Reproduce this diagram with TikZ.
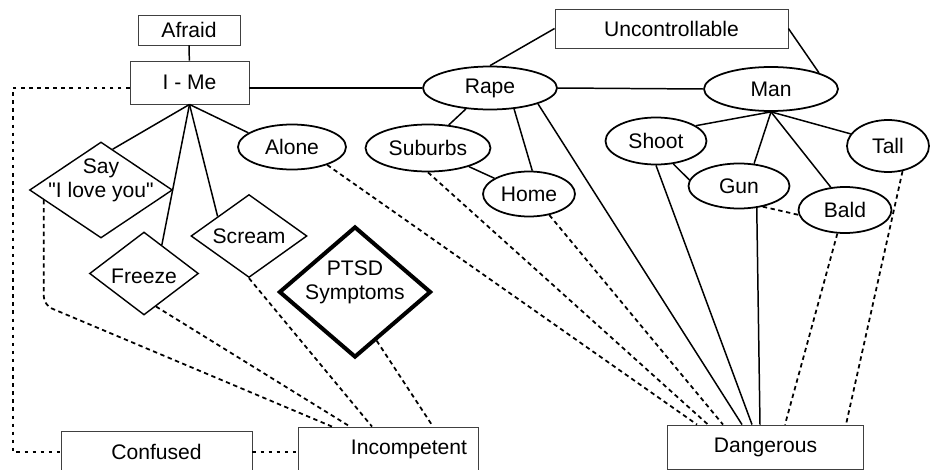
\documentclass[tikz,border=0pt]{standalone}
\usepackage{fontspec}
\setmainfont{Liberation Sans}
\usetikzlibrary{shapes.geometric}

\begin{document}
\begin{tikzpicture}[x=0.02cm, y=-0.02cm,
  font=\fontsize{12}{13.6}\selectfont,
  box/.style={draw=black!75, line width=0.5pt, inner sep=0pt},
  oval/.style={draw, ellipse, line width=1pt, inner sep=0pt},
  diam/.style={draw, diamond, line width=0.8pt, inner sep=0pt},
  link/.style={line width=0.85pt},
  dashlink/.style={line width=1pt, dash pattern=on 2.5pt off 2pt},
  dotlink/.style={line width=1.2pt, dash pattern=on 2pt off 2.6pt}]

\clip (0,0) rectangle (930,470);

\node[box, minimum width=2.04cm, minimum height=0.6cm] (afraid) at (189,30) {Afraid};
\node[box, minimum width=2.38cm, minimum height=0.86cm] (ime) at (189.5,82.5) {I - Me};
\node[box, minimum width=4.66cm, minimum height=0.78cm] (unc) at (671.5,28.5) {Uncontrollable};
\node[box, minimum width=3.82cm, minimum height=0.84cm] (conf) at (156.5,452) {Confused};
\node[box, text width=3.16cm, align=right, inner xsep=0.22cm, minimum height=0.88cm] (inc) at (388,449) {Incompetent};
\node[box, minimum width=3.92cm, minimum height=0.88cm] (dang) at (765.5,447) {Dangerous};

\node[oval, minimum width=2.68cm, minimum height=0.86cm] (rape) at (490,88) {Rape};
\node[oval, minimum width=2.68cm, minimum height=0.88cm] (man) at (771,89) {Man};
\node[oval, minimum width=2.16cm, minimum height=0.9cm] (alone) at (292,147) {Alone};
\node[oval, minimum width=2.5cm, minimum height=0.94cm] (sub) at (428,148) {Suburbs};
\node[oval, minimum width=1.84cm, minimum height=0.9cm] (home) at (529,194) {Home};
\node[oval, minimum width=2.02cm, minimum height=0.94cm] (shoot) at (656,141) {Shoot};
\node[oval, minimum width=2.02cm, minimum height=0.9cm] (gun) at (739,186) {Gun};
\node[oval, minimum width=1.86cm, minimum height=0.92cm] (bald) at (845,210) {Bald};
\node[oval, minimum width=1.64cm, minimum height=1.04cm] (tall) at (888,146) {Tall};

\node[diam, minimum width=2.86cm, minimum height=1.92cm,
  label={[align=center, yshift=0.2cm]center:Say\\\textquotedbl I love you\textquotedbl}] (say) at (101,190) {};
\node[diam, minimum width=2.18cm, minimum height=1.66cm,
  label={[yshift=-0.06cm]center:Freeze}] (freeze) at (144,273.5) {};
\node[diam, minimum width=2.32cm, minimum height=1.66cm,
  label=center:Scream] (scream) at (249,236) {};
\node[diam, line width=2.3pt, minimum width=3.04cm, minimum height=2.62cm,
  label={[align=center, yshift=0.2cm]center:PTSD\\Symptoms}] (ptsd) at (355,292) {};

% solid links
\draw[link] (afraid) -- (ime);
\draw[link] (ime.east |- rape.west) -- (rape.west);
\draw[link] (rape.east) -- (man.west);
\draw[link] (rape.north) -- (unc.west);
\draw[link] (unc.east) -- (man.north east);
\draw[link] (ime.south) -- (say.74);
\draw[link] (ime.south) -- (freeze.58);
\draw[link] (ime.south) -- (scream.148);
\draw[link] (ime.south) -- (alone.162);
\draw[link] (rape.-139) -- (sub.48);
\draw[link] (rape.-41) -- (home.82);
\draw[link] (sub) -- (home);
\draw[link] (man.south) -- (shoot.21);
\draw[link] (man.south) -- (gun.56);
\draw[link] (man.south) -- (bald.122);
\draw[link] (man.south) -- (tall.162);
\draw[link] (shoot.-53) -- (gun.173);
\draw[link] (rape.south east) -- ([shift={(-23.5,0)}]dang.north);
\draw[link] (shoot.south) -- ([shift={(-13.5,0)}]dang.north);
\draw[link] (gun.-51) -- ([shift={(-5.5,0)}]dang.north);

% dashed links
\draw[dashlink] (gun.-41) -- (bald.186);
\draw[dashlink] (alone.-27) -- ([shift={(-68.5,0)}]dang.north);
\draw[dashlink] (sub.south) -- ([shift={(-57.5,0)}]dang.north);
\draw[dashlink] (home.-46) -- ([shift={(-42.5,0)}]dang.north);
\draw[dashlink] (bald.-108) -- ([shift={(19.5,0)}]dang.north);
\draw[dashlink] (tall.-60) -- ([shift={(80.5,0)}]dang.north);
\draw[dashlink, rounded corners=5pt] (say.190) -- ++(0,105) -- ([shift={(-56,0)}]inc.north);
\draw[dashlink] (freeze.-70) -- ([shift={(-38,0)}]inc.north);
\draw[dashlink] (scream.south) -- ([shift={(-16,0)}]inc.north);
\draw[dashlink] (ptsd.-66) -- ([shift={(45,0)}]inc.north);

% dotted links
\draw[dotlink] (ime.west |- rape.west) -- ++(-117,0) |- (conf.west);
\draw[dotlink] (conf.east) -- (conf.east -| inc.west);

\end{tikzpicture}
\end{document}
